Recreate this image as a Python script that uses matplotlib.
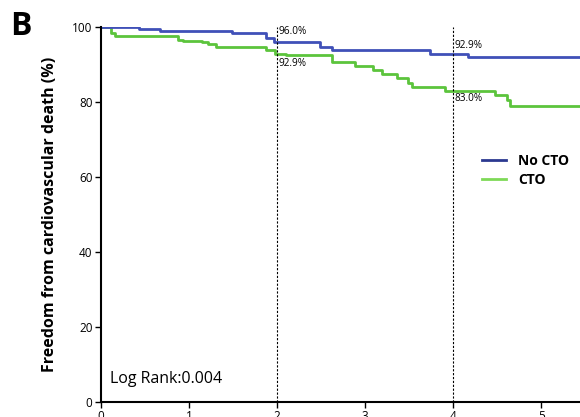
import matplotlib
matplotlib.use("Agg")
import matplotlib.pyplot as plt
from matplotlib.lines import Line2D

plt.rcParams["font.family"] = ["Open Sans", "DejaVu Sans"]

# Data (step curves, time in years, survival in %)
no_cto_t = [0, 0.43, 0.67, 1.49, 1.88, 1.97, 2.49, 2.62, 3.74, 4.17, 5.5]
no_cto_s = [100, 99.5, 99.0, 98.3, 97.0, 96.0, 94.7, 93.9, 92.9, 91.9, 91.9]

cto_t = [0, 0.12, 0.16, 0.87, 0.93, 1.15, 1.22, 1.31, 1.88, 1.98, 2.1, 2.62, 2.89,
         3.09, 3.19, 3.36, 3.49, 3.53, 3.91, 4.48, 4.61, 4.65, 5.5]
cto_s = [100, 98.5, 97.6, 96.5, 96.3, 95.9, 95.5, 94.7, 93.9, 92.9, 92.5, 90.7, 89.7,
         88.5, 87.6, 86.5, 85.0, 84.0, 83.0, 82.0, 80.5, 78.9, 78.9]

marks_x = [2, 4]
labels_upper = ["96.0%", "92.9%"]
labels_lower = ["92.9%", "83.0%"]
upper_y = [98.7, 95.2]
lower_y = [90.4, 81.0]

fig = plt.figure(figsize=(5.8, 4.17), dpi=100)
ax = fig.add_axes([0.174, 0.036, 0.826, 0.899])

ax.step(cto_t, cto_s, where="post", color="#5cc43c", lw=2.0)
ax.step(no_cto_t, no_cto_s, where="post", color="#4050b8", lw=2.0)

for xv in marks_x:
    ax.axvline(xv, ymin=0, ymax=1, color="black", lw=0.8, ls=(0, (2, 1.5)))
for xv, lab, yv in zip(marks_x, labels_upper, upper_y):
    ax.text(xv + 0.02, yv, lab, fontsize=7.2, va="center", ha="left")
for xv, lab, yv in zip(marks_x, labels_lower, lower_y):
    ax.text(xv + 0.02, yv, lab, fontsize=7.2, va="center", ha="left")

ax.text(0.1, 6, "Log Rank:0.004", fontsize=11.5, ha="left", va="center")

ax.set_xlim(0, 5.44)
ax.set_ylim(0, 100)
ax.set_yticks([0, 20, 40, 60, 80, 100])
ax.set_xticks([0, 1, 2, 3, 4, 5])
ax.tick_params(axis="both", labelsize=8.5, length=4, width=1, pad=2)
for s in ["top", "right"]:
    ax.spines[s].set_visible(False)
ax.spines["left"].set_linewidth(1.5)
ax.spines["bottom"].set_linewidth(1.5)

ax.set_ylabel("Freedom from cardiovascular death (%)", fontsize=11.5,
              fontweight="bold", labelpad=10)

handles = [Line2D([], [], color="#2b3990", lw=2), Line2D([], [], color="#7ed957", lw=2)]
leg = ax.legend(handles, ["No CTO", "CTO"], loc="upper left",
                bbox_to_anchor=(0.77, 0.695), frameon=False,
                prop={"weight": "bold", "size": 10}, handlelength=1.7,
                handletextpad=0.9, labelspacing=0.35)

fig.text(0.018, 0.975, "B", fontsize=23, fontweight="bold", va="top", ha="left")

fig.savefig("out.png", dpi=100)
